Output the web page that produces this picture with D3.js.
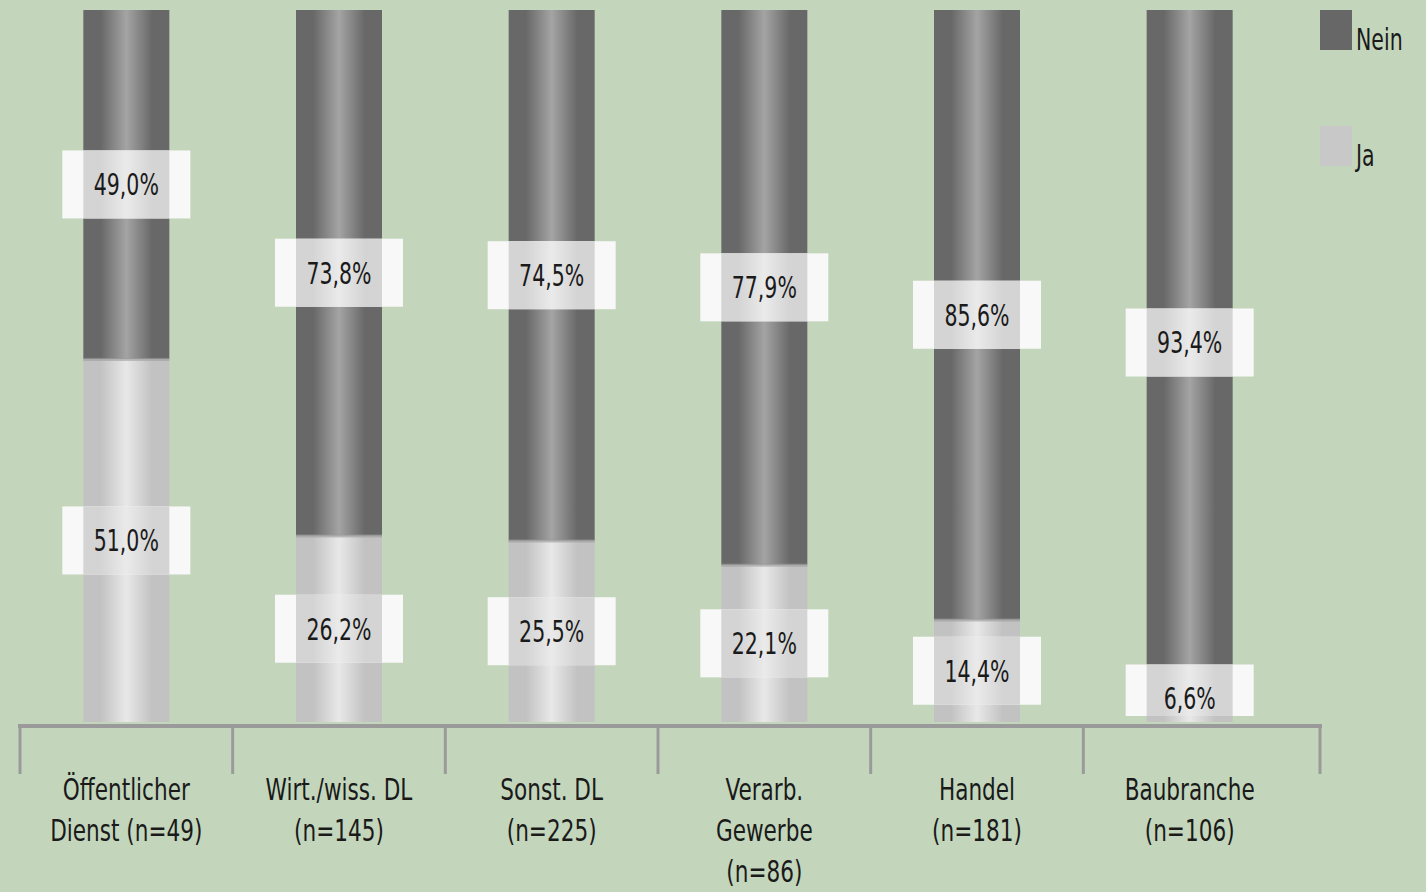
<!DOCTYPE html>
<html>
<head>
<meta charset="utf-8">
<title>Ja / Nein nach Branche</title>
<script src="https://cdn.jsdelivr.net/npm/d3@7"></script>
<style>
  body { margin: 0; background: #c3d6bc; }
  svg { display: block; }
  text { font-family: "Liberation Sans Narrow", "DejaVu Sans Condensed", "Roboto", sans-serif; fill: #1a1a1a; }
</style>
</head>
<body>
<div id="chart"></div>
<script>
// categories (line breaks as in the picture)
const categories = [
  ["Öffentlicher", "Dienst (n=49)"],
  ["Wirt./wiss. DL", "(n=145)"],
  ["Sonst. DL", "(n=225)"],
  ["Verarb.", "Gewerbe", "(n=86)"],
  ["Handel", "(n=181)"],
  ["Baubranche", "(n=106)"]
];
const ja   = [51.0, 26.2, 25.5, 22.1, 14.4, 6.6];
const nein = [49.0, 73.8, 74.5, 77.9, 85.6, 93.4];
const seriesNames = ["Nein", "Ja"];

const W = 1426, H = 892;
const svg = d3.select("#chart").append("svg").attr("width", W).attr("height", H);
svg.append("rect").attr("width", W).attr("height", H).attr("fill", "#c3d6bc");

const x = d3.scaleBand().domain(d3.range(categories.length)).range([20, 1296]);
const y = d3.scaleLinear().domain([0, 100]).range([722, 10]);
const barW = 86;

// bar gradients: dark edges, light centre
const defs = svg.append("defs");
function grad(id, edge, mid) {
  const g = defs.append("linearGradient").attr("id", id).attr("x1", "0%").attr("x2", "100%");
  [[0, edge], [0.2, edge], [0.35, d3.interpolate(edge, mid)(0.5)], [0.5, mid],
   [0.65, d3.interpolate(edge, mid)(0.5)], [0.8, edge], [1, edge]].forEach(s =>
    g.append("stop").attr("offset", s[0]).attr("stop-color", s[1]));
}
grad("gNein", "#686868", "#a4a4a4");
grad("gJa", "#c2c2c2", "#e8e8e8");
grad("gBox", "#d4d4d4", "#eaeaea");

const rows = categories.map((c, i) => ({ i, ja: ja[i], nein: nein[i] }));

const bars = svg.append("g").selectAll("g").data(rows).join("g")
  .attr("transform", d => `translate(${x(d.i) + x.bandwidth() / 2 - barW / 2},0)`);

bars.append("rect")
  .attr("y", d => y(d.ja)).attr("height", d => y(0) - y(d.ja))
  .attr("width", barW).attr("fill", "url(#gJa)");
bars.append("rect")
  .attr("y", d => y(d.ja + d.nein)).attr("height", d => y(d.ja) - y(d.ja + d.nein))
  .attr("width", barW).attr("fill", "url(#gNein)");
bars.append("rect")
  .attr("y", d => y(d.ja) - 1).attr("height", 3)
  .attr("width", barW).attr("fill", "#9a9a9a").attr("opacity", 0.6);

// value labels
const fmt = v => d3.format(".1f")(v).replace(".", ",") + "%";
function labels(acc, mid) {
  const lab = bars.append("g")
    .attr("transform", d => `translate(${barW / 2},${mid(d)})`);
  const top = -34;
  const hgt = d => Math.min(68, y(0) - 6 - mid(d) + 34);
  lab.append("rect").attr("x", -64).attr("y", top).attr("width", 128).attr("height", hgt)
    .attr("fill", "#f8f8f8");
  lab.append("rect").attr("x", -barW / 2).attr("y", top).attr("width", barW).attr("height", hgt)
    .attr("fill", "url(#gBox)");
  lab.append("text").attr("text-anchor", "middle").attr("dy", "0.36em")
    .attr("font-size", 30).attr("transform", "scale(0.76,1)")
    .text(d => fmt(acc(d)));
}
labels(d => d.nein, d => y(d.ja + d.nein / 2));
labels(d => d.ja, d => y(d.ja / 2));

// axis line with separators
const axis = svg.append("g").attr("stroke", "#9a9a9a");
axis.append("line").attr("x1", 18).attr("x2", 1322).attr("y1", 726).attr("y2", 726).attr("stroke-width", 4);
const seps = d3.range(categories.length).map(i => x(i)).concat([1320]);
axis.selectAll("line.sep").data(seps).join("line").attr("class", "sep")
  .attr("x1", d => d).attr("x2", d => d).attr("y1", 726).attr("y2", 774).attr("stroke-width", 3);

// category labels
svg.append("g").selectAll("text").data(rows).join("text")
  .attr("text-anchor", "middle").attr("font-size", 30)
  .attr("transform", d => `translate(${x(d.i) + x.bandwidth() / 2},800) scale(0.8,1)`)
  .selectAll("tspan").data(d => categories[d.i]).join("tspan")
  .attr("x", 0).attr("dy", (d, k) => k === 0 ? 0 : 41).text(d => d);

// legend
const legendColors = ["#676767", "#c8c8c8"];
const leg = svg.append("g").selectAll("g").data(seriesNames).join("g")
  .attr("transform", (d, i) => `translate(1320,${10 + i * 116})`);
leg.append("rect").attr("width", 32).attr("height", 40).attr("fill", (d, i) => legendColors[i]);
leg.append("text").attr("transform", "translate(36,40) scale(0.76,1)").attr("font-size", 30).text(d => d);
</script>
</body>
</html>
